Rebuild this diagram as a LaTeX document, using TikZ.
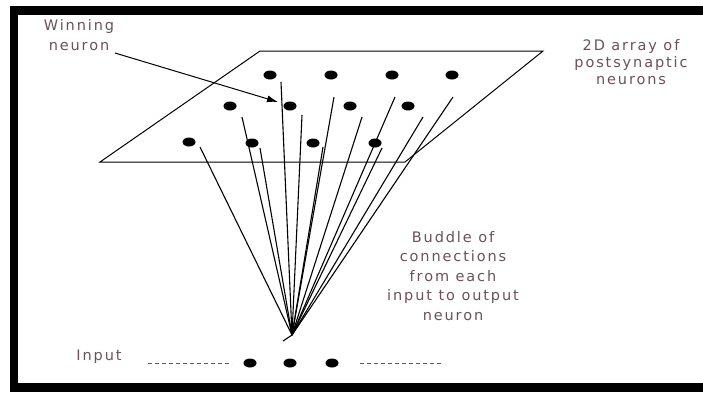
\documentclass[tikz,border=0pt]{standalone}
\usepackage{fontspec}
\usetikzlibrary{shapes.geometric,arrows.meta}
\newfontfamily\lblfont{DejaVu Sans}[LetterSpace=13]
\definecolor{lblcol}{RGB}{108,80,92}
\definecolor{dashcol}{RGB}{90,90,90}

\tikzset{
  neuron/.style={ellipse, fill=black, draw=none, inner sep=0pt,
                 minimum width=13pt, minimum height=9pt},
  conn/.style={draw=black, line width=1.1pt},
  plane/.style={draw=black, line width=1pt},
  lbl/.style={text=lblcol, align=center, inner sep=0pt,
              font=\lblfont\fontsize{14.5}{19.5}\selectfont},
  frame/.style={fill=black, draw=none},
  inputdash/.style={draw=dashcol, line width=0.9pt, dash pattern=on 4pt off 3pt}
}

\begin{document}
\begin{tikzpicture}[x=1pt,y=-1pt]
  \useasboundingbox (0,0) rectangle (703,392);
  \fill[white] (0,0) rectangle (703,392);

  % black frame (left, top, bottom)
  \fill[frame] (10,6) rectangle (703,15);
  \fill[frame] (10,6) rectangle (18,392);
  \fill[frame] (10,383) rectangle (703,392);

  % the 2D sheet of output neurons
  \coordinate (pTL) at (260,51);
  \coordinate (pTR) at (543,51);
  \coordinate (pBR) at (405,162);
  \coordinate (pBL) at (100,162);
  \draw[plane] (pTL) -- (pTR) -- (pBR) -- (pBL) -- cycle;

  % output neurons, three rows of four
  \node[neuron] (n11) at (270,75) {};
  \node[neuron] (n12) at (331,75) {};
  \node[neuron] (n13) at (392,75) {};
  \node[neuron] (n14) at (452,75) {};
  \node[neuron] (n21) at (230,106) {};
  \node[neuron] (n22) at (290,106) {};
  \node[neuron] (n23) at (350,106) {};
  \node[neuron] (n24) at (408,106) {};
  \node[neuron] (n31) at (189,142) {};
  \node[neuron] (n32) at (252,143) {};
  \node[neuron] (n33) at (313,143) {};
  \node[neuron] (n34) at (375,143) {};

  % where each connection leaves its neuron
  \coordinate (s11) at (281,82);
  \coordinate (s12) at (334,97);
  \coordinate (s13) at (395,97);
  \coordinate (s14) at (453,97);
  \coordinate (s21) at (242,117);
  \coordinate (s22) at (302,115);
  \coordinate (s23) at (362,117);
  \coordinate (s24) at (423,117);
  \coordinate (s31) at (200,147);
  \coordinate (s32) at (260,148);
  \coordinate (s33) at (323,147);
  \coordinate (s34) at (382,148);

  % the bundle converging on one input
  \coordinate (apex) at (292,335);
  \coordinate (tail) at (283,341);
  \foreach \s in {s11,s12,s13,s14,s21,s22,s23,s24,s31,s32,s33,s34}
    \draw[conn] (\s) -- (apex);
  \draw[conn] (apex) -- (tail);

  % input layer
  \node[neuron] (i1) at (250,363) {};
  \node[neuron] (i2) at (290,363) {};
  \node[neuron] (i3) at (332,363) {};
  \coordinate (dl1) at (148,363);
  \coordinate (dl2) at (232,363);
  \coordinate (dr1) at (360,363);
  \coordinate (dr2) at (443,363);
  \draw[inputdash] (dl1) -- (dl2);
  \draw[inputdash] (dr1) -- (dr2);

  % labels
  \node[lbl] (win) at (79,35) {Winning\\neuron};
  \node[lbl, font=\lblfont\fontsize{14.5}{17}\selectfont] (arr) at (631,62) {2D array of\\postsynaptic\\neurons};
  \node[lbl] (bund) at (453,276) {Buddle of\\connections\\from each\\input to output\\neuron};
  \node[lbl] (inp) at (99,357) {Input};

  % pointer to the winning neuron
  \coordinate (wA) at (115,53);
  \coordinate (wB) at (278,102);
  \draw[draw=black, line width=1pt, -{Latex[length=11pt,width=7pt]}] (wA) -- (wB);
\end{tikzpicture}
\end{document}
